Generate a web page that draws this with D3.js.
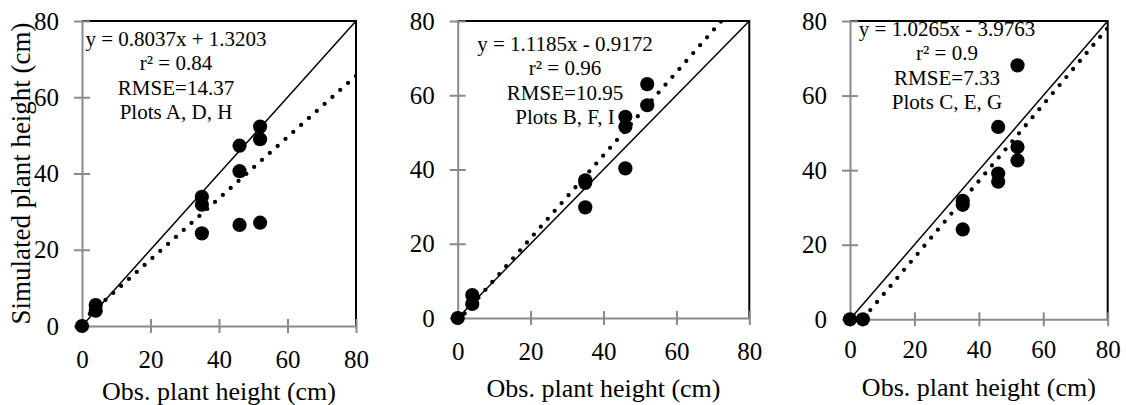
<!DOCTYPE html>
<html>
<head>
<meta charset="utf-8">
<script src="https://cdn.jsdelivr.net/npm/d3@7"></script>
<style>
    body { margin: 0; background: #fff; }
</style>
</head>
<body>
<div id="chart"></div>
<script>
const width = 1126
const height = 405
const serif = "'Liberation Serif', 'Times New Roman', Times, serif"

// datos
const ticks = [0, 20, 40, 60, 80]

const obsA = [0, 4, 4, 35, 35, 35, 46, 46, 46, 52, 52, 52]
const simA = [0, 5.5, 4, 33.9, 31.8, 24.3, 47.3, 40.6, 26.5, 52.3, 49.0, 27.1]
const obsB = [0, 4, 4, 35, 35, 35, 46, 46, 46, 52, 52]
const simB = [0, 6.2, 3.8, 37.1, 36.4, 29.8, 54.2, 51.5, 40.3, 63.0, 57.3]
const obsC = [0, 4, 35, 35, 35, 46, 46, 46, 52, 52, 52]
const simC = [0, 0, 31.8, 30.7, 24.1, 51.6, 39.1, 36.9, 68.1, 46.2, 42.6]

const slopes = [0.8037, 1.1185, 1.0265]
const intercepts = [1.3203, -0.9172, -3.9763]
const eqLabels = ["y = 0.8037x + 1.3203", "y = 1.1185x - 0.9172", "y = 1.0265x - 3.9763"]
const r2Labels = ["r² = 0.84", "r² = 0.96", "r² = 0.9"]
const rmseLabels = ["RMSE=14.37", "RMSE=10.95", "RMSE=7.33"]
const plotLabels = ["Plots A, D, H", "Plots B, F, I", "Plots C, E, G"]

const xTitle = "Obs. plant height (cm)"
const yTitle = "Simulated plant height (cm)"

const obsAll = [obsA, obsB, obsC]
const simAll = [simA, simB, simC]

// posición de cada panel (px)
const frames = [
    { x0: 82, x1: 356, y0: 326, y1: 21, labelX: 176, labelY: 45.5, tickY: 368, titleY: 400 },
    { x0: 457.7, x1: 749.3, y0: 318, y1: 21, labelX: 565, labelY: 50.5, tickY: 360, titleY: 396.5 },
    { x0: 850, x1: 1107.7, y0: 319.3, y1: 21, labelX: 947, labelY: 35.7, tickY: 358, titleY: 396 }
]

const axisGrey = "#8a8a8a"

const svg = d3.select("#chart")
    .append("svg")
    .attr("width", width)
    .attr("height", height)
    .style("font-family", serif)

frames.forEach((f, i) => {
    const x = d3.scaleLinear().domain([0, 80]).range([f.x0, f.x1])
    const y = d3.scaleLinear().domain([0, 80]).range([f.y0, f.y1])

    const g = svg.append("g").attr("class", "panel")

    svg.append("clipPath").attr("id", "clip" + i)
        .append("rect")
        .attr("x", f.x0).attr("y", f.y1)
        .attr("width", f.x1 - f.x0).attr("height", f.y0 - f.y1)

    // borde superior y derecho
    g.append("path")
        .attr("d", `M${f.x0},${f.y1}H${f.x1}V${f.y0}`)
        .attr("fill", "none")
        .attr("stroke", "#000")
        .attr("stroke-width", 2)

    // línea 1:1
    g.append("line")
        .attr("x1", x(0)).attr("y1", y(0))
        .attr("x2", x(80)).attr("y2", y(80))
        .attr("stroke", "#000")
        .attr("stroke-width", 1.5)

    // línea de tendencia punteada
    const trend = d3.line().x(d => x(d)).y(d => y(slopes[i] * d + intercepts[i]))
    g.append("path")
        .attr("d", trend([0, 80]))
        .attr("clip-path", `url(#clip${i})`)
        .attr("fill", "none")
        .attr("stroke", "#000")
        .attr("stroke-width", 4.3)
        .attr("stroke-linecap", "round")
        .attr("stroke-dasharray", "0,10.5")

    // ejes
    const xAxisGroup = g.append("g").attr("transform", `translate(0, ${f.y0})`)
        .call(d3.axisBottom(x).tickValues(ticks).tickSize(7).tickSizeOuter(0))
    xAxisGroup.selectAll(".tick line").attr("y1", -7)
    xAxisGroup.selectAll(".tick text")
        .attr("y", f.tickY - f.y0).attr("dy", 0)

    const yAxisGroup = g.append("g").attr("transform", `translate(${f.x0}, 0)`)
        .call(d3.axisLeft(y).tickValues(ticks).tickSize(8).tickPadding(15).tickSizeOuter(0))
    yAxisGroup.selectAll(".tick line").attr("x1", 8)

    g.selectAll(".domain, .tick line")
        .attr("stroke", axisGrey)
        .attr("stroke-width", 2)
    g.selectAll(".tick text")
        .style("font-family", serif)
        .style("font-size", "25px")
        .attr("fill", "#000")

    // puntos
    g.selectAll("circle")
        .data(obsAll[i].map((o, k) => ({ obs: o, sim: simAll[i][k] })))
        .join("circle")
        .attr("cx", d => x(d.obs))
        .attr("cy", d => y(d.sim))
        .attr("r", 7.1)
        .attr("fill", "#000")

    // texto de la ecuación
    const labels = [eqLabels[i], r2Labels[i], rmseLabels[i], plotLabels[i]]
    g.selectAll(".note")
        .data(labels)
        .join("text")
        .attr("class", "note")
        .attr("x", f.labelX)
        .attr("y", (d, k) => f.labelY + k * 24.5)
        .attr("text-anchor", "middle")
        .style("font-family", serif)
        .style("font-size", "21px")
        .text(d => d)

    g.append("text")
        .attr("x", (f.x0 + f.x1) / 2)
        .attr("y", f.titleY)
        .attr("text-anchor", "middle")
        .style("font-family", serif)
        .style("font-size", "26px")
        .text(xTitle)
})

svg.append("text")
    .attr("transform", `translate(30, ${(frames[0].y0 + frames[0].y1) / 2}) rotate(-90)`)
    .attr("text-anchor", "middle")
    .style("font-family", serif)
    .style("font-size", "27px")
    .text(yTitle)
</script>
</body>
</html>
